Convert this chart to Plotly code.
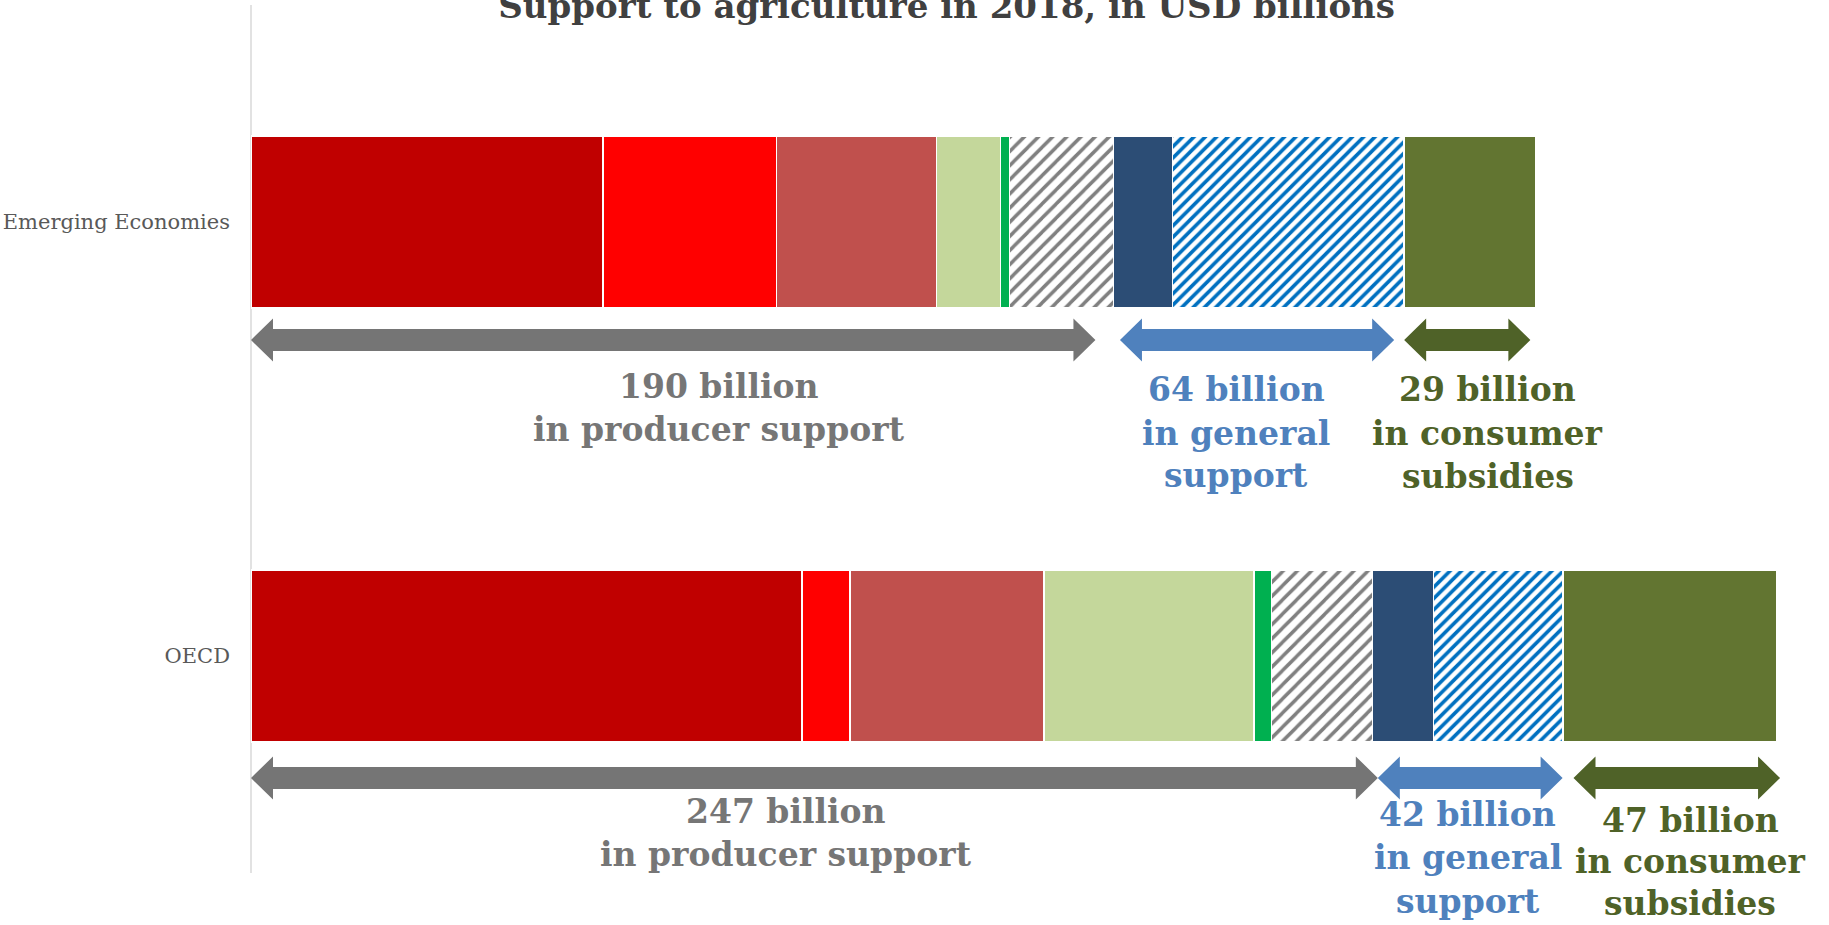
import plotly.graph_objects as go

# ---------------------------------------------------------------------------
# Data: support to agriculture in 2018, USD billions
# ---------------------------------------------------------------------------
categories = ["Emerging Economies", "OECD"]

# producer support, split into its components
producer_a = [77.5, 121.4]
producer_b = [38.3, 10.5]
producer_c = [35.2, 42.8]
producer_d = [14.1, 46.2]
producer_e = [2.0, 3.9]
producer_f = [22.9, 22.2]   # hatched

# general services support
general_a = [13.0, 13.5]
general_b = [51.0, 28.5]    # hatched

# consumer subsidies
consumer = [29.0, 47.0]

title_text = "Support to agriculture in 2018, in USD billions"

# ---------------------------------------------------------------------------
# Geometry / styling
# ---------------------------------------------------------------------------
FIG_W, FIG_H = 1829, 925
M_LEFT, M_TOP = 251, 5
PX_PER_BN = 4.54          # horizontal scale, pixels per billion
PX_PER_CAT = 434          # vertical distance between the two bars
BAR_W = 0.396
X_MAX = (FIG_W - M_LEFT) / PX_PER_BN
Y_TOP = 1.5
Y_BOTTOM = Y_TOP - (FIG_H - M_TOP) / PX_PER_CAT

SERIF = "DejaVu Serif"
LABEL_SIZE = 33
TITLE_SIZE = 34

cat_index = {"OECD": 0, "Emerging Economies": 1}


def below(cat, px):
    """y coordinate lying px pixels below the centre of a category's bar."""
    return cat_index[cat] - px / PX_PER_CAT


fig = go.Figure()

hatch_grey = dict(shape="/", fgcolor="#808080", bgcolor="white",
                  size=10, solidity=0.35, fillmode="replace")
hatch_blue = dict(shape="/", fgcolor="#0070c0", bgcolor="white",
                  size=8, solidity=0.45, fillmode="replace")

segments = [
    ("Producer support A", producer_a, "#c00000", None),
    ("Producer support B", producer_b, "#ff0000", None),
    ("Producer support C", producer_c, "#c0504d", None),
    ("Producer support D", producer_d, "#c4d79b", None),
    ("Producer support E", producer_e, "#00b050", None),
    ("Producer support F", producer_f, "white", hatch_grey),
    ("General support A", general_a, "#2c4d75", None),
    ("General support B", general_b, "white", hatch_blue),
    ("Consumer subsidies", consumer, "#627531", None),
]

for name, vals, color, pattern in segments:
    marker = dict(color=color, line=dict(color="white", width=1.5))
    if pattern:
        marker["pattern"] = pattern
    fig.add_trace(go.Bar(
        name=name, x=vals, y=categories, orientation="h",
        width=BAR_W, marker=marker, showlegend=False,
        hovertemplate="%{y}: %{x} bn<extra>" + name + "</extra>",
    ))

# ---------------------------------------------------------------------------
# Double-headed arrows and labels under each bar
# ---------------------------------------------------------------------------
groups = [
    ("producer", [producer_a, producer_b, producer_c, producer_d, producer_e, producer_f],
     "#757575", "#767676", ["in producer support"]),
    ("general", [general_a, general_b], "#4f81bd", "#4f81bd", ["in general", "support"]),
    ("consumer", [consumer], "#4f6228", "#4f6228", ["in consumer", "subsidies"]),
]

ARROW_DROP = {"Emerging Economies": 118, "OECD": 122}   # px below bar centre
SHAFT_HALF = 11      # px
HEAD_HALF = 21.5     # px
HEAD_LEN = 22 / PX_PER_BN

# arrow end trims (left, right) in billions
arrow_trim = {
    ("Emerging Economies", "producer"): (0.0, 4.0),
    ("Emerging Economies", "general"): (1.4, 2.2),
    ("Emerging Economies", "consumer"): (0.0, 1.2),
    ("OECD", "producer"): (0.0, -1.2),
    ("OECD", "general"): (1.2, 0.1),
    ("OECD", "consumer"): (2.3, -0.8),
}

# label centres (billions) and baselines (px below bar centre)
label_x = {
    ("Emerging Economies", "producer"): 103.0,
    ("Emerging Economies", "general"): 217.0,
    ("Emerging Economies", "consumer"): 272.4,
    ("OECD", "producer"): 117.8,
    ("OECD", "general"): 268.0,
    ("OECD", "consumer"): 317.0,
}
label_baselines = {
    ("Emerging Economies", "producer"): [176, 219],
    ("Emerging Economies", "general"): [179, 223, 265],
    ("Emerging Economies", "consumer"): [179, 223, 266],
    ("OECD", "producer"): [167, 210],
    ("OECD", "general"): [170, 213, 257],
    ("OECD", "consumer"): [176, 217, 259],
}

shapes = []
annotations = []

for i, cat in enumerate(categories):
    start = 0.0
    for key, parts, arrow_col, text_col, tail_lines in groups:
        total = sum(p[i] for p in parts)
        tl, tr = arrow_trim[(cat, key)]
        x0, x1 = start + tl, start + total - tr
        yc = below(cat, ARROW_DROP[cat])
        hs = SHAFT_HALF / PX_PER_CAT
        hh = HEAD_HALF / PX_PER_CAT
        pts = [
            (x0, yc), (x0 + HEAD_LEN, yc + hh), (x0 + HEAD_LEN, yc + hs),
            (x1 - HEAD_LEN, yc + hs), (x1 - HEAD_LEN, yc + hh), (x1, yc),
            (x1 - HEAD_LEN, yc - hh), (x1 - HEAD_LEN, yc - hs),
            (x0 + HEAD_LEN, yc - hs), (x0 + HEAD_LEN, yc - hh),
        ]
        path = "M " + " L ".join(f"{x:.4f},{y:.5f}" for x, y in pts) + " Z"
        shapes.append(dict(type="path", path=path, xref="x", yref="y",
                           fillcolor=arrow_col, line=dict(width=0), layer="above"))

        lines = [f"{total:.0f} billion"] + tail_lines
        for line, base in zip(lines, label_baselines[(cat, key)]):
            annotations.append(dict(
                text=line, x=label_x[(cat, key)], y=below(cat, base - 0.35 * LABEL_SIZE),
                xref="x", yref="y", xanchor="center", yanchor="middle",
                showarrow=False,
                font=dict(family=SERIF, size=LABEL_SIZE, color=text_col, weight="bold"),
            ))
        start += total

# thin vertical axis line at the bars' origin
shapes.append(dict(type="line", xref="paper", yref="y", x0=0, x1=0, y0=-0.5, y1=1.5,
                   line=dict(color="#d9d9d9", width=1.5), layer="below"))

fig.update_layout(
    width=FIG_W, height=FIG_H,
    margin=dict(l=M_LEFT, r=0, t=M_TOP, b=0, pad=0),
    paper_bgcolor="white", plot_bgcolor="white",
    barmode="stack",
    showlegend=False,
    title=dict(
        text=title_text, x=946.6 / FIG_W, xanchor="center", xref="container",
        y=1 - 6.0 / FIG_H, yanchor="middle", yref="container",
        font=dict(family=SERIF, size=TITLE_SIZE, color="#404040", weight="bold"),
    ),
    xaxis=dict(range=[0, X_MAX], visible=False, showgrid=False, zeroline=False),
    yaxis=dict(
        type="category", categoryorder="array", categoryarray=["OECD", "Emerging Economies"],
        range=[Y_BOTTOM, Y_TOP], showgrid=False, zeroline=False, showline=False,
        ticks="", ticklabelstandoff=20,
        tickfont=dict(family=SERIF, size=21, color="#595959"),
    ),
    shapes=shapes,
    annotations=annotations,
)

fig.write_html("out.html")
